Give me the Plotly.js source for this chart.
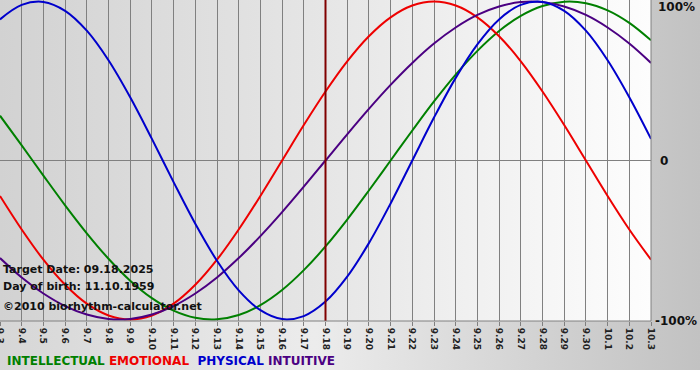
<!DOCTYPE html>
<html>
<head>
<meta charset="utf-8">
<script src="https://cdn.plot.ly/plotly-3.0.1.min.js"></script>
<style>
  html, body { margin: 0; padding: 0; background: #ffffff; }
  #wrap { position: relative; width: 700px; height: 380px; overflow: hidden; }
  #outerbg { position: absolute; left: 0; top: 0; width: 700px; height: 370px;
    background: linear-gradient(to right, #d6d6d6 0%, #ececec 45%, #d0d0d0 80%, #c2c2c2 100%); }
  #plotbg { position: absolute; left: 0; top: 0; width: 651px; height: 321px;
    background: linear-gradient(to right, #d2d2d2 0%, #e6e6e6 50%, #fdfdfd 100%); }
  #chart { position: absolute; left: 0; top: 0; width: 700px; height: 380px; }
</style>
</head>
<body>
<div id="wrap">
  <div id="outerbg"></div>
  <div id="plotbg"></div>
  <div id="chart"></div>
</div>
<script>
const dayLabels = ["9.3","9.4","9.5","9.6","9.7","9.8","9.9","9.10","9.11","9.12","9.13","9.14","9.15","9.16","9.17","9.18","9.19","9.20","9.21","9.22","9.23","9.24","9.25","9.26","9.27","9.28","9.29","9.30","10.1","10.2","10.3"];

const intellectual = [0.282,0.095,-0.095,-0.282,-0.458,-0.618,-0.756,-0.866,-0.945,-0.990,-0.999,-0.972,-0.910,-0.815,-0.690,-0.541,-0.372,-0.189,0.000,0.189,0.372,0.541,0.690,0.815,0.910,0.972,0.999,0.990,0.945,0.866,0.756];
const emotional = [-0.223,-0.434,-0.624,-0.782,-0.901,-0.975,-1.000,-0.975,-0.901,-0.782,-0.624,-0.434,-0.223,0.000,0.223,0.434,0.624,0.782,0.901,0.975,1.000,0.975,0.901,0.782,0.624,0.434,0.223,0.000,-0.223,-0.434,-0.624];
const physical = [0.888,0.979,0.998,0.942,0.817,0.631,0.398,0.136,-0.136,-0.398,-0.631,-0.817,-0.942,-0.998,-0.979,-0.888,-0.731,-0.520,-0.270,0.000,0.270,0.520,0.731,0.888,0.979,0.998,0.942,0.817,0.631,0.398,0.136];
const intuitive = [-0.614,-0.736,-0.837,-0.916,-0.969,-0.997,-0.997,-0.969,-0.916,-0.837,-0.736,-0.614,-0.476,-0.325,-0.165,0.000,0.165,0.325,0.476,0.614,0.736,0.837,0.916,0.969,0.997,0.997,0.969,0.916,0.837,0.736,0.614];

const targetLabel = "9.18";
const yLabels = ["100%", "0", "-100%"];

const F = "DejaVu Sans, Verdana, sans-serif";
const targetIndex = dayLabels.indexOf(targetLabel);

function line(y, color) {
  return { x: dayLabels, y: y, type: "scatter", mode: "lines",
    line: { color: color, width: 2, shape: "spline", smoothing: 1 },
    hoverinfo: "skip", showlegend: false };
}

const data = [
  line(intellectual, "#008000"),
  line(emotional, "#ee0000"),
  line(intuitive, "#4b0082"),
  line(physical, "#0000cc")
];

const layout = {
  width: 700, height: 380,
  margin: { l: 0, r: 49, t: 0, b: 59, pad: 0 },
  paper_bgcolor: "rgba(0,0,0,0)",
  plot_bgcolor: "rgba(0,0,0,0)",
  showlegend: false,
  xaxis: {
    type: "category",
    range: [0, dayLabels.length - 1],
    showgrid: true, gridcolor: "#808080", gridwidth: 1,
    zeroline: false, showline: false,
    ticks: "outside", ticklen: 4, tickcolor: "#808080", tickwidth: 1,
    tickangle: 90,
    tickfont: { family: F, size: 9, color: "#222222", weight: "bold" },
    fixedrange: true
  },
  yaxis: {
    range: [-1.01, 1.01],
    showgrid: false, zeroline: true, zerolinecolor: "#808080", zerolinewidth: 1,
    showticklabels: false, ticks: "", showline: false, fixedrange: true
  },
  shapes: [
    { type: "line", xref: "x", yref: "paper", x0: targetIndex, x1: targetIndex, y0: 0, y1: 1,
      line: { color: "#800000", width: 2 } },
    { type: "line", xref: "paper", yref: "paper", x0: 1, x1: 1, y0: 0, y1: 1,
      line: { color: "#808080", width: 1 } },
    { type: "line", xref: "paper", yref: "paper", x0: 0, x1: 1, y0: 0, y1: 0,
      line: { color: "#808080", width: 1 } }
  ],
  annotations: [
    { xref: "paper", yref: "paper", x: 1.008, y: 0.978, xanchor: "left", yanchor: "middle",
      text: yLabels[0], showarrow: false, font: { family: F, size: 12, color: "#111111", weight: "bold" } },
    { xref: "paper", yref: "paper", x: 1.01, y: 0.498, xanchor: "left", yanchor: "middle",
      text: yLabels[1], showarrow: false, font: { family: F, size: 12, color: "#111111", weight: "bold" } },
    { xref: "paper", yref: "paper", x: 1.003, y: 0.0, xanchor: "left", yanchor: "middle",
      text: yLabels[2], showarrow: false, font: { family: F, size: 12, color: "#111111", weight: "bold" } },
    { xref: "paper", yref: "paper", x: 0.002, y: 0.159, xanchor: "left", yanchor: "middle",
      text: "Target Date: 09.18.2025", showarrow: false, font: { family: F, size: 11, color: "#111111", weight: "bold" } },
    { xref: "paper", yref: "paper", x: 0.002, y: 0.109, xanchor: "left", yanchor: "middle",
      text: "Day of birth: 11.10.1959", showarrow: false, font: { family: F, size: 11, color: "#111111", weight: "bold" } },
    { xref: "paper", yref: "paper", x: 0.002, y: 0.044, xanchor: "left", yanchor: "middle",
      text: "©2010 biorhythm-calculator.net", showarrow: false, font: { family: F, size: 11, color: "#111111", weight: "bold" } },
    { xref: "paper", yref: "paper", x: 0.008, y: -0.125, xanchor: "left", yanchor: "middle",
      text: '<span style="color:#008000">INTELLECTUAL</span> <span style="color:#ee0000">EMOTIONAL</span>  <span style="color:#0000cc">PHYSICAL</span> <span style="color:#4b0082">INTUITIVE</span>',
      showarrow: false, font: { family: F, size: 12, color: "#111111", weight: "bold" } }
  ]
};

Plotly.newPlot("chart", data, layout, { displayModeBar: false, staticPlot: true });
</script>
</body>
</html>
